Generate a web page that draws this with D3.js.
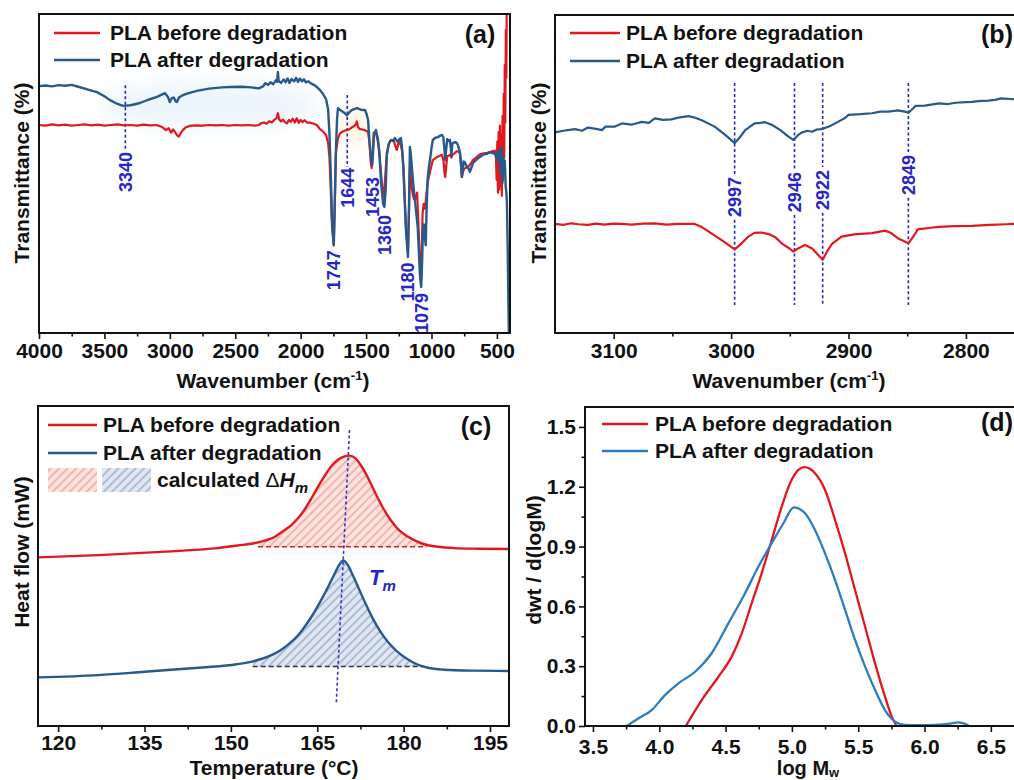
<!DOCTYPE html>
<html>
<head>
<meta charset="utf-8">
<script src="https://cdn.jsdelivr.net/npm/d3@7"></script>
<style>
  html, body { margin: 0; padding: 0; background: #fff; }
  svg { display: block; font-family: "Liberation Sans", Arial, sans-serif; }
</style>
</head>
<body>
<svg id="fig" width="1014" height="780"></svg>
<script>
// ---------- (a) FTIR full range: [wavenumber cm-1, transmittance %] ----------
const ftirBeforeA = [[4000,65.2],[3950,65.0],[3900,65.4],[3850,65.1],[3800,65.3],[3750,65.0],[3700,65.2],[3650,65.4],[3600,65.1],[3550,65.3],[3500,65.0],[3450,65.2],[3400,65.4],[3350,65.1],[3300,65.2],[3250,65.0],[3200,65.3],[3150,65.1],[3100,65.2],[3060,64.6],[3030,63.6],[3010,64.2],[2990,62.8],[2975,63.8],[2960,63.0],[2945,62.0],[2930,61.6],[2915,62.8],[2900,63.6],[2880,64.4],[2850,64.9],[2800,65.1],[2750,65.0],[2700,65.2],[2650,65.1],[2600,65.2],[2550,65.0],[2500,65.2],[2450,65.1],[2400,65.2],[2350,65.0],[2320,65.2],[2300,65.8],[2280,66.0],[2260,65.6],[2240,66.4],[2220,66.0],[2200,66.9],[2185,67.3],[2174,68.9],[2165,67.0],[2150,66.3],[2135,66.9],[2120,66.1],[2105,65.7],[2090,66.8],[2075,66.2],[2060,67.2],[2045,66.0],[2030,67.3],[2015,65.9],[2000,66.8],[1985,66.1],[1970,66.7],[1950,65.9],[1930,66.0],[1900,65.6],[1876,65.2],[1853,63.9],[1830,63.2],[1805,62.0],[1790,59.5],[1780,55],[1770,45],[1760,33],[1747,27.5],[1740,38],[1731,56.4],[1715,61],[1700,62.5],[1685,63.0],[1665,63.4],[1650,63.6],[1630,63.8],[1610,64.4],[1590,64.9],[1578,65.5],[1570,66.3],[1562,64.6],[1550,64.0],[1530,63.8],[1509,63.6],[1485,63.0],[1475,60],[1465,54],[1458,51.7],[1450,56],[1442,62.7],[1430,62.7],[1420,62.1],[1410,60],[1400,57.4],[1390,52],[1375,45],[1365,42.6],[1355,48],[1345,54.5],[1330,58.5],[1320,59.9],[1305,60.5],[1290,60.5],[1275,58.5],[1265,57.4],[1255,59],[1245,59.9],[1235,59],[1225,57],[1215,52],[1205,42],[1195,33],[1180,25.1],[1172,38],[1165,52.0],[1155,47],[1145,43.9],[1135,42],[1127,41.7],[1118,43],[1110,44.0],[1100,34],[1090,24],[1079,16.6],[1073,28],[1068,37.6],[1060,40.5],[1050,39],[1040,43],[1030,47],[1012,50.5],[1000,52.5],[990,54.2],[970,54.8],[955,55.2],[935,55.6],[920,55.8],[908,54],[900,50],[895,48.9],[888,52],[880,55.4],[870,55.6],[859,55.8],[848,55],[836,56.0],[820,56.5],[806,57.0],[795,56.8],[783,56.7],[775,53],[768,48.9],[760,50.5],[750,51.5],[735,51.8],[722,52.0],[705,52.8],[683,54.2],[660,55],[630,56.0],[600,56.3],[575,56.5],[554,56.7],[530,57],[516,57.2],[508,56],[502,48],[497,60],[492,44],[487,63],[482,45],[477,65],[472,46],[467,62],[462,43],[457,68],[452,48],[448,75],[444,55],[440,84],[436,66],[432,95],[428,80],[424,108],[418,112],[408,115]];

const ftirAfterA = [[4000,77.4],[3950,77.6],[3900,77.3],[3850,77.7],[3800,77.5],[3750,77.8],[3700,77.2],[3650,76.6],[3600,76.0],[3557,75.5],[3500,74.2],[3457,73.0],[3400,71.8],[3358,71.2],[3300,71.4],[3228,72.1],[3160,73.2],[3098,74.0],[3037,75.2],[3015,74.0],[3000,72.4],[2985,73.6],[2970,73.8],[2955,72.6],[2946,72.4],[2930,73.8],[2900,74.6],[2850,75.3],[2793,75.9],[2700,76.6],[2600,77.0],[2540,77.1],[2450,77.2],[2380,77.0],[2320,76.7],[2288,77.3],[2270,78.3],[2250,77.8],[2230,78.6],[2210,78.0],[2190,79.2],[2180,78.7],[2174,81.8],[2168,79.0],[2150,78.4],[2130,79.5],[2115,78.6],[2100,79.8],[2085,78.4],[2070,79.6],[2050,78.9],[2035,80.0],[2020,78.7],[2005,79.8],[1990,78.9],[1975,79.5],[1960,78.6],[1940,78.9],[1920,78.2],[1900,77.8],[1876,77.1],[1853,76.2],[1830,75.0],[1805,73.2],[1790,70.0],[1780,62.5],[1770,50],[1760,35],[1747,27.5],[1740,40],[1730,58],[1722,67],[1715,70.5],[1700,70.0],[1676,69.3],[1660,68.8],[1647,68.2],[1630,69.1],[1610,69.9],[1590,70.2],[1570,70.5],[1540,70.0],[1509,69.9],[1495,68.5],[1485,66.8],[1472,59],[1460,54],[1453,52.7],[1445,58],[1438,62.7],[1425,63.6],[1410,61],[1398,56],[1385,47],[1370,40.5],[1360,39.5],[1350,45],[1341,56.4],[1325,59.5],[1310,60.5],[1295,60.2],[1280,61.1],[1265,60.3],[1257,59.9],[1245,60.8],[1234,61.1],[1225,58],[1215,52],[1205,42],[1195,32],[1180,23.8],[1172,40],[1165,58.3],[1158,56],[1150,52.0],[1140,47],[1127,41.7],[1115,37],[1105,33],[1095,24],[1088,18],[1079,14.4],[1072,22],[1066,31.3],[1058,34],[1050,30],[1044,27.5],[1038,38],[1030,48],[1020,52],[1012,54.2],[1000,58],[990,60.5],[970,61.2],[951,61.4],[935,61.8],[920,62.1],[910,61.5],[902,58],[895,54.2],[888,57.5],[880,60.8],[870,60.2],[859,60.5],[852,58],[848,55.5],[842,59],[836,59.6],[820,59.8],[806,59.6],[795,58.5],[783,56.7],[775,53],[768,48.9],[762,51],[755,53.8],[745,53.5],[735,52.5],[722,52.0],[707,50.5],[695,51.8],[683,53.3],[660,54.2],[630,55.2],[600,56.0],[575,56.2],[554,56.7],[530,56.3],[516,56.4],[505,55],[496,56.5],[488,53.5],[480,57.5],[472,50],[465,58],[458,47],[452,55.5],[446,50],[440,54],[433,46],[428,44],[424,41.7],[418,28],[413,12],[408,-3]];

// marked bands: wavenumber, top/bottom of the guide line, centre of the rotated label
const peaksA = [
  { wn: 3340, top: 77.7, bottom: 57.4, labelAt: 50.5 },
  { wn: 1644, top: 74.6, bottom: 52.0, labelAt: 45.5 },
  { wn: 1747, labelAt: 19.7 },
  { wn: 1453, labelAt: 42.6 },
  { wn: 1360, labelAt: 30.7 },
  { wn: 1180, labelAt: 16.0 },
  { wn: 1079, labelAt: 6.3 }
];
// soft highlight regions: centre and half extents
const hazesA = [
  { wn: 2693, t: 71.5, dWn: 840, dT: 7.8, color: "#edf6fc" },
  { wn: 1585, t: 65.2, dWn: 95, dT: 7.5, color: "#fcf4da" }
];
const ticksA = [4000, 3500, 3000, 2500, 2000, 1500, 1000, 500];
const minorTicksA = [3750, 3250, 2750, 2250, 1750, 1250, 750];

// ---------- (b) FTIR C-H stretching region ----------
const ftirBeforeB = [[3150,34.3],[3143,34.0],[3136,34.5],[3130,34.2],[3122,34.0],[3115,34.4],[3108,34.1],[3100,34.4],[3093,34.3],[3085,34.1],[3075,34.4],[3065,34.5],[3055,34.1],[3045,34.3],[3031,34.3],[3025,33.3],[3019,31.9],[3008,29.2],[2997,26.3],[2991,28.2],[2985,30.4],[2980,31.5],[2974,31.6],[2968,31.1],[2962,30.0],[2957,28.2],[2950,26.5],[2947,25.6],[2943,26.6],[2937,27.7],[2931,26.6],[2927,25.0],[2922,23.0],[2918,25.8],[2914,28.0],[2906,30.3],[2895,31.0],[2880,31.4],[2869,32.2],[2864,31.5],[2858,29.8],[2849,28.2],[2845,30.2],[2841,32.6],[2830,33.1],[2823,33.4],[2810,33.6],[2795,33.7],[2780,34.0],[2765,34.2],[2759,34.3],[2750,34.3]];
const ftirAfterB = [[3150,63.1],[3143,63.6],[3133,64.1],[3127,63.6],[3122,64.6],[3115,64.2],[3110,63.8],[3107,64.9],[3099,64.9],[3093,65.9],[3085,65.5],[3076,66.4],[3070,66.1],[3065,67.5],[3058,67.0],[3051,67.2],[3044,67.8],[3036,68.2],[3030,67.6],[3025,66.9],[3014,64.9],[3005,62.3],[2997,59.7],[2992,61.8],[2988,63.8],[2980,65.9],[2975,66.1],[2971,66.3],[2965,65.4],[2958,63.8],[2952,62.0],[2947,60.7],[2943,62.2],[2940,63.0],[2935,63.6],[2931,63.3],[2927,64.0],[2923,64.1],[2916,65.0],[2909,66.4],[2903,67.6],[2900,68.6],[2890,68.8],[2880,69.1],[2873,69.6],[2866,69.6],[2858,70.0],[2852,69.6],[2849,69.3],[2845,70.6],[2843,71.4],[2835,71.5],[2823,72.2],[2815,72.0],[2809,72.4],[2800,72.6],[2795,72.7],[2787,73.0],[2781,73.1],[2775,73.3],[2770,73.8],[2759,73.5],[2750,73.6]];
const peaksB = [
  { wn: 2997, labelAt: 42.8 },
  { wn: 2946, labelAt: 44.3 },
  { wn: 2922, labelAt: 45.0 },
  { wn: 2849, labelAt: 49.7 }
];
const guideTopB = 78.6, guideBottomB = 8.8;
const ticksB = [3100, 3000, 2900, 2800];
const minorTicksB = [3050, 2950, 2850];

// ---------- (c) DSC melting: [temperature °C, heat flow a.u.] ----------
const dscBefore = [[116.5,52.7],[127,53.4],[138.7,54.5],[147.2,55.5],[151.2,56.4],[154,57.1],[156,58.0],[157.5,59.0],[159,60.8],[160.5,62.8],[161.8,65.2],[163,68.2],[164.2,71.8],[165.4,75.6],[166.5,78.8],[167.5,81.3],[168.6,83.2],[169.6,84.2],[170.6,84.5],[171.6,83.7],[172.6,81.4],[173.8,77.6],[175,73.1],[176.4,68.2],[177.8,64.2],[179.2,61.2],[180.7,59.2],[182.2,57.8],[183.6,56.8],[186,56.0],[188.8,55.6],[193,55.4],[198.3,55.3]];
const dscAfter = [[116.5,15.2],[127,15.9],[134,16.8],[139,17.5],[145,18.3],[151,19.3],[154,20.3],[156.2,21.5],[158.5,23.5],[160.2,25.8],[161.6,28.2],[163,31.5],[164.3,35.0],[165.5,38.8],[166.7,42.8],[167.8,46.8],[168.7,50.0],[169.5,51.7],[170.3,50.3],[171.2,47.0],[172.3,42.6],[173.5,37.8],[174.7,33.4],[176,29.4],[177.4,26.0],[178.8,23.4],[180.5,21.1],[182.3,19.3],[184.2,18.2],[187,17.6],[192,17.3],[198.3,17.2]];
const meltBandBefore = { from: 154.7, to: 184.0, base: 56.0 };
const meltBandAfter = { from: 153.8, to: 183.3, base: 18.6 };
const tmGuide = [[170.6, 92.5], [168.3, 7.0]];
const tmLabelAt = [174.0, 44.0];
const ticksC = [120, 135, 150, 165, 180, 195];
const minorTicksC = [127.5, 142.5, 157.5, 172.5, 187.5];

// ---------- (d) GPC molecular weight distribution: [log Mw, dwt/d(logM)] ----------
const gpcBefore = [[4.2,0.0],[4.32,0.13],[4.446,0.247],[4.546,0.348],[4.622,0.465],[4.697,0.616],[4.772,0.766],[4.848,0.933],[4.923,1.1],[4.986,1.218],[5.049,1.285],[5.095,1.298],[5.174,1.268],[5.25,1.184],[5.325,1.034],[5.401,0.866],[5.476,0.682],[5.552,0.498],[5.627,0.314],[5.702,0.147],[5.753,0.047],[5.79,0.0]];
const gpcAfter = [[3.754,0.0],[3.842,0.038],[3.943,0.08],[4.043,0.155],[4.144,0.214],[4.27,0.272],[4.395,0.365],[4.521,0.515],[4.647,0.666],[4.747,0.799],[4.848,0.917],[4.936,1.017],[5.015,1.097],[5.099,1.067],[5.174,0.983],[5.25,0.866],[5.325,0.733],[5.401,0.582],[5.476,0.432],[5.552,0.298],[5.627,0.181],[5.702,0.08],[5.778,0.022],[5.853,0.005],[5.954,0.004],[6.08,0.005],[6.205,0.013],[6.25,0.018],[6.281,0.016],[6.331,0.004]];
const ticksDx = [3.5, 4.0, 4.5, 5.0, 5.5, 6.0, 6.5];
const minorTicksDx = [3.75, 4.25, 4.75, 5.25, 5.75, 6.25];
const ticksDy = [0, 0.3, 0.6, 0.9, 1.2, 1.5];
const minorTicksDy = [0.15, 0.45, 0.75, 1.05, 1.35];

const seriesNames = ["PLA before degradation", "PLA after degradation"];

// ---------- drawing ----------
const RED = "#e3171e", NAVY = "#28598b", SKY = "#2f7dbf", NOTE = "#2626c4", INK = "#111";
const FONT = "'Liberation Sans', Arial, sans-serif";
const svg = d3.select("#fig");
const defs = svg.append("defs");

defs.append("filter").attr("id", "soft").attr("x", "-50%").attr("y", "-50%").attr("width", "200%").attr("height", "200%")
  .append("feGaussianBlur").attr("stdDeviation", 9);

function hatch(id, bg, stroke) {
  const p = defs.append("pattern").attr("id", id).attr("patternUnits", "userSpaceOnUse")
    .attr("width", 6).attr("height", 6).attr("patternTransform", "rotate(45)");
  p.append("rect").attr("width", 6).attr("height", 6).attr("fill", bg);
  p.append("line").attr("x1", 1).attr("y1", 0).attr("x2", 1).attr("y2", 6)
    .attr("stroke", stroke).attr("stroke-width", 1.3);
}
hatch("hatch-red", "#fce3de", "#ee9c95");
hatch("hatch-blue", "#e1e7f0", "#92a6cf");

function panel(id, xDomain, xRange, yDomain, yRange) {
  const x = d3.scaleLinear().domain(xDomain).range(xRange);
  const y = d3.scaleLinear().domain(yDomain).range(yRange);
  const g = svg.append("g").attr("class", "panel-" + id);
  const x0 = Math.min(...xRange), y0 = Math.min(...yRange);
  const w = Math.abs(xRange[1] - xRange[0]), h = Math.abs(yRange[1] - yRange[0]);
  defs.append("clipPath").attr("id", "clip-" + id).append("rect")
    .attr("x", x0).attr("y", y0).attr("width", w).attr("height", h);
  const plot = g.append("g").attr("clip-path", `url(#clip-${id})`);
  return { x, y, g, plot, box: { x0, y0, w, h } };
}

function frame(p) {
  p.g.append("rect").attr("x", p.box.x0).attr("y", p.box.y0)
    .attr("width", p.box.w).attr("height", p.box.h)
    .attr("fill", "none").attr("stroke", INK).attr("stroke-width", 2);
}

function styleAxis(sel) {
  sel.select(".domain").remove();
  sel.attr("font-family", FONT).attr("font-size", 21).attr("font-weight", "bold").attr("color", INK);
  sel.selectAll(".tick line").attr("stroke-width", 1.6);
}

function xAxis(p, majors, minors, fmt, pad) {
  const yb = p.box.y0 + p.box.h;
  p.g.append("g").attr("transform", `translate(0,${yb})`)
    .call(d3.axisBottom(p.x).tickValues(minors).tickSize(3.5).tickFormat(""))
    .call(styleAxis);
  p.g.append("g").attr("transform", `translate(0,${yb})`)
    .call(d3.axisBottom(p.x).tickValues(majors).tickSize(6).tickPadding(pad).tickFormat(fmt))
    .call(styleAxis);
}

function yAxis(p, majors, minors, fmt) {
  p.g.append("g").attr("transform", `translate(${p.box.x0},0)`)
    .call(d3.axisLeft(p.y).tickValues(minors).tickSize(3.5).tickFormat(""))
    .call(styleAxis);
  p.g.append("g").attr("transform", `translate(${p.box.x0},0)`)
    .call(d3.axisLeft(p.y).tickValues(majors).tickSize(6).tickPadding(3).tickFormat(fmt))
    .call(styleAxis);
}

function curve(p, data, color, width, interp) {
  p.plot.append("path").datum(data)
    .attr("fill", "none").attr("stroke", color).attr("stroke-width", width)
    .attr("stroke-linejoin", "round")
    .attr("d", d3.line().x(d => p.x(d[0])).y(d => p.y(d[1])).curve(interp || d3.curveLinear));
}

function legend(g, x1, x2, xt, yc, color, label) {
  g.append("line").attr("x1", x1).attr("x2", x2).attr("y1", yc).attr("y2", yc)
    .attr("stroke", color).attr("stroke-width", 2.6);
  g.append("text").attr("x", xt).attr("y", yc).attr("dy", "0.35em")
    .attr("font-family", FONT).attr("font-size", 21).attr("font-weight", "bold").attr("fill", INK)
    .text(label);
}

function panelTag(g, x, y, label) {
  g.append("text").attr("x", x).attr("y", y).attr("text-anchor", "middle")
    .attr("font-family", FONT).attr("font-size", 25).attr("font-weight", "bold").attr("fill", INK)
    .text(label);
}

function yTitle(g, x, y, label) {
  g.append("text").attr("transform", `translate(${x},${y}) rotate(-90)`).attr("text-anchor", "middle")
    .attr("font-family", FONT).attr("font-size", 21).attr("font-weight", "bold").attr("fill", INK)
    .text(label);
}

function wavenumberTitle(g, x, y) {
  const t = g.append("text").attr("x", x).attr("y", y).attr("text-anchor", "middle")
    .attr("font-family", FONT).attr("font-size", 21).attr("font-weight", "bold").attr("fill", INK);
  t.append("tspan").text("Wavenumber (cm");
  t.append("tspan").attr("font-size", 13).attr("dy", -8).text("-1");
  t.append("tspan").attr("dy", 8).text(")");
}

function peakLabel(p, wn, at) {
  p.g.append("text").attr("transform", `translate(${p.x(wn)},${p.y(at)}) rotate(-90)`)
    .attr("text-anchor", "middle").attr("dy", "0.36em")
    .attr("font-family", FONT).attr("font-size", 18).attr("font-weight", "bold").attr("fill", NOTE)
    .text(String(wn));
}

function guide(p, xa, ya, xb, yb, color) {
  p.plot.append("line")
    .attr("x1", p.x(xa)).attr("y1", p.y(ya)).attr("x2", p.x(xb)).attr("y2", p.y(yb))
    .attr("stroke", color).attr("stroke-width", 1.6).attr("stroke-dasharray", "3,2.5");
}

// ===== (a) =====
const A = panel("a", [4000, 400], [39, 510], [0, 100], [333, 14]);
hazesA.forEach(h => {
  A.plot.append("ellipse")
    .attr("cx", A.x(h.wn)).attr("cy", A.y(h.t))
    .attr("rx", Math.abs(A.x(h.wn + h.dWn) - A.x(h.wn)))
    .attr("ry", Math.abs(A.y(h.t + h.dT) - A.y(h.t)))
    .attr("fill", h.color).attr("filter", "url(#soft)");
});
peaksA.filter(d => d.top !== undefined).forEach(d => guide(A, d.wn, d.top, d.wn, d.bottom, NOTE));
curve(A, ftirBeforeA, RED, 2.2);
curve(A, ftirAfterA, NAVY, 2.4);
peaksA.forEach(d => peakLabel(A, d.wn, d.labelAt));
frame(A);
xAxis(A, ticksA, minorTicksA, d3.format("d"), 4);
legend(A.g, 54, 100, 110, 33, RED, seriesNames[0]);
legend(A.g, 54, 100, 110, 60, NAVY, seriesNames[1]);
panelTag(A.g, 480, 43, "(a)");
yTitle(A.g, 29, 173, "Transmittance (%)");
wavenumberTitle(A.g, 273, 388);

// ===== (b) =====
const B = panel("b", [3150, 2750], [555, 1024.6], [0, 100], [333, 15]);
peaksB.forEach(d => {
  guide(B, d.wn, guideTopB, d.wn, d.labelAt + 7.2, NOTE);
  guide(B, d.wn, d.labelAt - 7.2, d.wn, guideBottomB, NOTE);
});
curve(B, ftirBeforeB, RED, 2.2);
curve(B, ftirAfterB, NAVY, 2.2);
peaksB.forEach(d => peakLabel(B, d.wn, d.labelAt));
frame(B);
xAxis(B, ticksB, minorTicksB, d3.format("d"), 4);
legend(B.g, 570, 620, 626, 33, RED, seriesNames[0]);
legend(B.g, 570, 620, 626, 61, NAVY, seriesNames[1]);
panelTag(B.g, 997, 43, "(b)");
yTitle(B.g, 546, 173, "Transmittance (%)");
wavenumberTitle(B.g, 789, 388);

// ===== (c) =====
const C = panel("c", [116.5, 198.3], [38, 509], [0, 100], [726, 406]);

function bandArea(data, band) {
  const f = d3.scaleLinear().domain(data.map(d => d[0])).range(data.map(d => d[1]));
  const pts = [[band.from, f(band.from)]]
    .concat(data.filter(d => d[0] > band.from && d[0] < band.to))
    .concat([[band.to, f(band.to)]]);
  return pts.map(d => [d[0], Math.max(d[1], band.base)]);
}
[[dscBefore, meltBandBefore, "url(#hatch-red)", RED], [dscAfter, meltBandAfter, "url(#hatch-blue)", "#333"]]
  .forEach(([data, band, fill, dashColor]) => {
    C.plot.append("path").datum(bandArea(data, band))
      .attr("fill", fill).attr("stroke", "none")
      .attr("d", d3.area().x(d => C.x(d[0])).y0(C.y(band.base)).y1(d => C.y(d[1])).curve(d3.curveMonotoneX));
    C.plot.append("line")
      .attr("x1", C.x(band.from)).attr("x2", C.x(band.to))
      .attr("y1", C.y(band.base)).attr("y2", C.y(band.base))
      .attr("stroke", dashColor).attr("stroke-width", 1.4).attr("stroke-dasharray", "5,3");
  });
curve(C, dscBefore, RED, 2.4, d3.curveMonotoneX);
curve(C, dscAfter, NAVY, 2.4, d3.curveMonotoneX);
guide(C, tmGuide[0][0], tmGuide[0][1], tmGuide[1][0], tmGuide[1][1], "#3434cc");
const tm = C.g.append("text").attr("x", C.x(tmLabelAt[0])).attr("y", C.y(tmLabelAt[1]))
  .attr("font-family", FONT).attr("font-size", 22).attr("font-weight", "bold")
  .attr("font-style", "italic").attr("fill", NOTE);
tm.append("tspan").text("T");
tm.append("tspan").attr("font-size", 15).attr("dy", 6).text("m");
frame(C);
xAxis(C, ticksC, minorTicksC, d3.format("d"), 3);
legend(C.g, 48, 97, 103, 425, RED, seriesNames[0]);
legend(C.g, 48, 97, 103, 453, NAVY, seriesNames[1]);
C.g.append("rect").attr("x", 48).attr("y", 468).attr("width", 49).attr("height", 24).attr("fill", "url(#hatch-red)");
C.g.append("rect").attr("x", 102).attr("y", 468).attr("width", 49).attr("height", 24).attr("fill", "url(#hatch-blue)");
const dh = C.g.append("text").attr("x", 157).attr("y", 480).attr("dy", "0.35em")
  .attr("font-family", FONT).attr("font-size", 21).attr("font-weight", "bold").attr("fill", INK);
dh.append("tspan").text("calculated ");
dh.append("tspan").attr("font-weight", "normal").text("\u0394");
dh.append("tspan").attr("font-style", "italic").text("H");
dh.append("tspan").attr("font-style", "italic").attr("font-size", 15).attr("dy", 6).text("m");
panelTag(C.g, 476, 435, "(c)");
yTitle(C.g, 29, 552, "Heat flow (mW)");
C.g.append("text").attr("x", 274).attr("y", 775).attr("text-anchor", "middle")
  .attr("font-family", FONT).attr("font-size", 21).attr("font-weight", "bold").attr("fill", INK)
  .text("Temperature (\u00B0C)");

// ===== (d) =====
const D = panel("d", [3.44, 6.75], [585, 1024], [0, 1.6], [726, 407]);
curve(D, gpcBefore, RED, 2.3, d3.curveMonotoneX);
curve(D, gpcAfter, SKY, 2.3, d3.curveMonotoneX);
frame(D);
xAxis(D, ticksDx, minorTicksDx, d3.format(".1f"), 7);
yAxis(D, ticksDy, minorTicksDy, d3.format(".1f"));
legend(D.g, 602, 648, 655, 424, RED, seriesNames[0]);
legend(D.g, 602, 648, 655, 451, SKY, seriesNames[1]);
panelTag(D.g, 997, 431, "(d)");
yTitle(D.g, 541, 560, "dwt / d(logM)");
const lm = D.g.append("text").attr("x", 808).attr("y", 775).attr("text-anchor", "middle")
  .attr("font-family", FONT).attr("font-size", 20).attr("font-weight", "bold").attr("fill", INK);
lm.append("tspan").text("log M");
lm.append("tspan").attr("font-size", 13).attr("dy", 2).text("w");
</script>
</body>
</html>
